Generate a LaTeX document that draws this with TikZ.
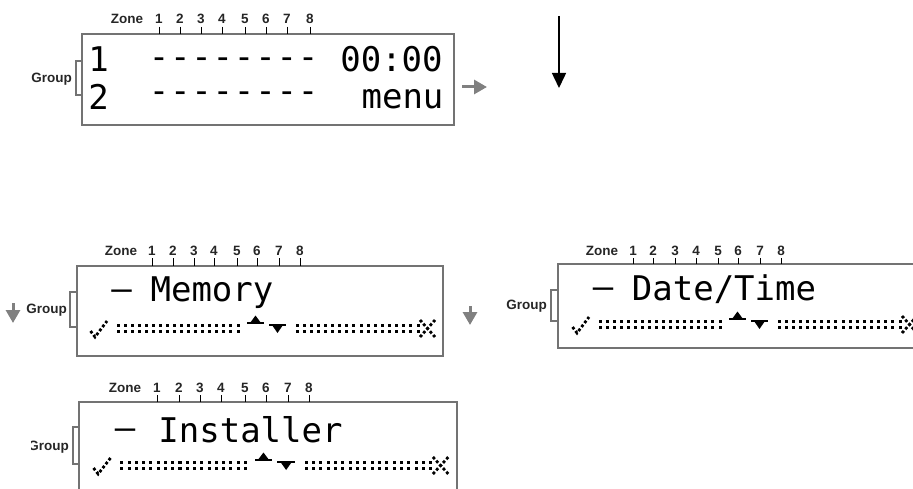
\documentclass[tikz,border=0pt]{standalone}
\usepackage{fontspec}
\setmainfont{Liberation Sans}
\newfontfamily\lcdfont{DejaVu Sans Mono}
\usetikzlibrary{arrows.meta}
\tikzset{
 lbl/.style={font=\fontsize{13.5}{14}\selectfont\bfseries, text=black!85, inner sep=0, anchor=base},
 lcd/.style={font=\lcdfont\fontsize{34}{34}\selectfont, inner sep=0, anchor=base},
 frame/.style={draw=black!55, line width=1.2pt},
 tick/.style={draw=black, line width=0.9pt},
 garrow/.style={draw=black!50, line width=3pt, -{Triangle[length=13pt,width=14pt]}},
 barrow/.style={draw=black, line width=1.5pt, -{Triangle[length=15pt,width=14pt]}},
 dotln/.style={line width=2.8pt, dash pattern=on 2.8pt off 2.2pt},
}
\newcommand\lcdbottom[3]{%
 \begin{scope}[shift={(#1,#2)}, xscale=#3]
  \draw[dotln] (0.5,3) -- (5,9) -- (17,-7);
  \foreach \i in {0,...,17} {
   \fill ({28+120*\i/17-1.5},-1.5) rectangle ++(3,-3);
   \fill ({28+120*\i/17-1.5},4.5) rectangle ++(3,-3);
   \fill ({207+121*\i/17-1.5},-1.5) rectangle ++(3,-3);
   \fill ({207+121*\i/17-1.5},4.5) rectangle ++(3,-3);
  }
  \fill (157,-4) rectangle (174,-6.5);
  \fill (160,-5) -- (165.5,-12.5) -- (171,-5) -- cycle;
  \fill (179,-4.5) rectangle (196,-2);
  \fill (182,-3) -- (187.5,5) -- (193,-3) -- cycle;
  \draw[dotln] (330,-8) -- (345,9);
  \draw[dotln] (330,9) -- (345,-8);
 \end{scope}}
\begin{document}
\begin{tikzpicture}[x=1pt,y=-1pt]
\useasboundingbox (0,0) rectangle (913,489);
\clip (0,0) rectangle (913,489);

% ---------- top LCD ----------
\draw[frame] (82,34) rectangle (454,125);
\draw[frame] (82,61) -- (76,61) -- (76,95) -- (82,95);
\node[lbl, anchor=base east] (g0) at (72,82.5) {Group};
\node[lbl] (z0) at (127,23.5) {Zone};
\foreach \n/\x in {1/159,2/180,3/201,4/222,5/245,6/266,7/287,8/310}{
  \node[lbl] (z0n\n) at (\x,23.5) {\n};
  \draw[tick] ([yshift=-3pt]z0n\n.south) -- (z0n\n.south |- 0,34);
}
\node[lcd] (r1a) at (98.5,72) {1};
\node[lcd] (r2a) at (98.5,110) {2};
\foreach \i in {0,...,7}{
  \node[lcd] (r1d\i) at ({159+21.3*\i},69) {-};
  \node[lcd] (r2d\i) at ({159+21.3*\i},103) {-};
}
\node[lcd] (time) at (391.5,72) {00:00};
\node[lcd] (menu) at (402.5,109) {menu};

% arrows
\coordinate (ra1) at (462,87); \coordinate (ra2) at (487,87);
\draw[garrow] (ra1) -- (ra2);
\coordinate (ba1) at (559,16); \coordinate (ba2) at (559,88);
\draw[barrow] (ba1) -- (ba2);
\coordinate (da1) at (13,303); \coordinate (da2) at (13,323);
\draw[garrow] (da1) -- (da2);
\coordinate (db1) at (470,306); \coordinate (db2) at (470,325);
\draw[garrow] (db1) -- (db2);

% ---------- Memory LCD ----------
\draw[frame] (77,266) rectangle (443,356);
\draw[frame] (77,292) -- (70,292) -- (70,327) -- (77,327);
\node[lbl, anchor=base east] (g1) at (67,313) {Group};
\node[lbl] (z1) at (121,255) {Zone};
\foreach \n/\x in {1/152,2/173,3/194,4/214,5/237,6/257,7/279,8/300}{
  \node[lbl] (z1n\n) at (\x,255) {\n};
  \draw[tick] ([yshift=-3pt]z1n\n.south) -- (z1n\n.south |- 0,266);
}
\node[lcd] (mdash) at (121.5,300) {–};
\node[lcd] (mword) at (212,301) {Memory};
\lcdbottom{90}{328}{1}

% ---------- Date/Time LCD ----------
\draw[frame] (558,264) rectangle (930,348);
\draw[frame] (558,290) -- (551,290) -- (551,321) -- (558,321);
\node[lbl, anchor=base east] (g2) at (547,309) {Group};
\node[lbl] (z2) at (602,255) {Zone};
\foreach \n/\x in {1/633,2/653,3/675,4/696,5/718,6/738,7/760,8/781}{
  \node[lbl] (z2n\n) at (\x,255) {\n};
  \draw[tick] ([yshift=-3pt]z2n\n.south) -- (z2n\n.south |- 0,264);
}
\node[lcd] (ddash) at (603,298) {–};
\node[lcd] (dword) at (724,300) {Date/Time};
\lcdbottom{572}{324}{1}

% ---------- Installer LCD ----------
\draw[frame] (79,402) rectangle (457,500);
\draw[frame] (79,427) -- (73,427) -- (73,464) -- (79,464);
\begin{scope}
  \clip (31,430) rectangle (72,460);
  \node[lbl, anchor=base east] (g3) at (69,450) {Group};
\end{scope}
\node[lbl] (z3) at (125,392) {Zone};
\foreach \n/\x in {1/157,2/179,3/200,4/221,5/245,6/266,7/288,8/309}{
  \node[lbl] (z3n\n) at (\x,392) {\n};
  \draw[tick] ([yshift=-3pt]z3n\n.south) -- (z3n\n.south |- 0,402);
}
\node[lcd] (idash) at (125,439) {–};
\node[lcd] (iword) at (250.5,442) {Installer};
\lcdbottom{93}{465}{1.03}
\end{tikzpicture}
\end{document}
